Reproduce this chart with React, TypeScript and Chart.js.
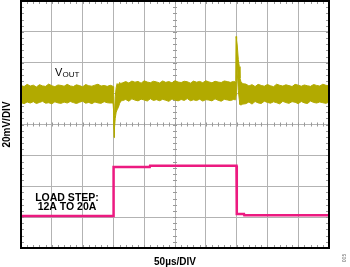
import React, { useEffect, useRef } from 'react';
import { Chart, registerables } from 'chart.js';

Chart.register(...registerables);

// ---- Axis setup (oscilloscope: 10 x 8 divisions) ----
const timeMin = 0; // µs
const timeMax = 500; // µs (50 µs/div)
const timeStep = 50;
const voutMin = -80; // mV (20 mV/div)
const voutMax = 80;
const voutStep = 20;
const ampMin = 7; // A (5 A/div, hidden scale for load step)
const ampMax = 47;

// ---- VOUT noise envelope (mV), segment by segment ----
const tBefore = [0, 5, 10, 15, 20, 25, 30, 35, 40, 45, 50, 55, 60, 65, 70, 75, 80, 85, 90, 95, 100, 105, 110, 115, 120, 125, 130, 135, 140, 145];
const upBefore = [25.2, 24.6, 26.0, 24.9, 25.5, 24.3, 25.8, 25.0, 24.7, 26.2, 25.1, 24.5, 25.6, 25.3, 24.8, 26.0, 25.0, 24.6, 25.7, 25.2, 24.4, 25.9, 25.1, 24.8, 25.5, 26.1, 24.9, 25.3, 24.7, 25.4];
const loBefore = [14.2, 13.5, 14.6, 13.9, 14.8, 13.6, 14.3, 15.0, 13.8, 14.1, 13.4, 14.7, 14.0, 13.7, 14.5, 13.9, 14.9, 14.2, 13.6, 14.4, 15.1, 13.8, 14.3, 13.5, 14.6, 14.0, 13.7, 14.8, 14.1, 13.9];

const tStepUp = [148, 149.5, 150.3, 151, 151.8, 153, 154.5, 156, 158, 160, 162];
const upStepUp = [25.0, 24.6, 21.0, -3.0, 6.0, 18.0, 24.0, 26.5, 25.5, 27.2, 26.6];
const loStepUp = [14.0, 13.6, 9.0, -8.5, -2.0, 4.0, 8.0, 9.5, 11.0, 13.5, 15.2];

const tHigh = [165, 170, 175, 180, 185, 190, 195, 200, 205, 210, 215, 220, 225, 230, 235, 240, 245, 250, 255, 260, 265, 270, 275, 280, 285, 290, 295, 300, 305, 310, 315, 320, 325, 330, 335, 340, 345];
const upHigh = [27.0, 27.8, 26.9, 28.1, 27.4, 27.9, 26.8, 28.3, 27.5, 27.1, 28.0, 27.6, 26.9, 28.2, 27.3, 27.8, 27.0, 28.4, 27.5, 27.2, 28.0, 27.7, 26.8, 28.1, 27.4, 27.9, 27.1, 28.3, 27.6, 27.0, 28.0, 27.5, 27.2, 28.2, 27.8, 27.3, 27.9];
const loHigh = [15.5, 16.2, 15.1, 16.6, 15.8, 15.3, 16.4, 15.9, 15.2, 16.7, 15.6, 16.1, 15.4, 16.3, 15.7, 15.0, 16.5, 15.9, 15.3, 16.2, 15.6, 16.8, 15.4, 16.0, 15.5, 16.4, 15.2, 16.1, 15.8, 15.3, 16.6, 15.7, 15.1, 16.3, 15.9, 15.5, 16.2];

const tStepDown = [348, 348.6, 349.1, 350, 351, 352.8, 354.4, 355.5, 357, 360];
const upStepDown = [27.6, 28.0, 57.0, 55.0, 51.5, 42.0, 37.5, 30.0, 27.8, 26.4];
const loStepDown = [16.0, 16.4, 19.0, 40.0, 34.0, 22.0, 16.0, 13.0, 12.6, 13.2];

const tAfter = [365, 370, 375, 380, 385, 390, 395, 400, 405, 410, 415, 420, 425, 430, 435, 440, 445, 450, 455, 460, 465, 470, 475, 480, 485, 490, 495, 500];
const upAfter = [26.2, 25.0, 25.8, 24.6, 26.0, 25.3, 24.8, 25.9, 25.1, 24.5, 26.1, 25.4, 24.9, 25.7, 25.2, 24.6, 26.0, 25.5, 24.8, 25.6, 25.1, 24.7, 25.9, 25.3, 24.9, 26.1, 25.4, 25.0];
const loAfter = [13.5, 14.6, 13.2, 14.9, 14.0, 13.6, 15.1, 14.3, 13.8, 14.7, 14.1, 13.4, 15.0, 14.2, 13.7, 14.8, 14.4, 13.5, 14.9, 14.0, 13.6, 15.2, 14.3, 13.9, 14.6, 14.1, 13.7, 14.5];

// ---- Load current (A) ----
const iTimes = [0, 150, 150.3, 209, 209.5, 349.8, 350.3, 362, 362.5, 500];
const iAmps = [12.2, 12.2, 20.1, 20.1, 20.3, 20.3, 12.5, 12.5, 12.3, 12.3];

// ---- Text ----
const yTitle = '20mV/DIV';
const xTitle = '50µs/DIV';
const loadLabel = ['LOAD STEP:', '12A TO 20A'];
const figId = '005';

const vTimes = [...tBefore, ...tStepUp, ...tHigh, ...tStepDown, ...tAfter];
const vUpper = [...upBefore, ...upStepUp, ...upHigh, ...upStepDown, ...upAfter];
const vLower = [...loBefore, ...loStepUp, ...loHigh, ...loStepDown, ...loAfter];

const OLIVE = '#b2aa00';
const PINK = '#ec1a80';
const GRID = '#b3b3b3';
const FONT = '"Liberation Sans", Arial, sans-serif';

const scopePlugin = {
  id: 'scopeDecor',
  beforeDatasetsDraw(chart: any) {
    const { ctx, chartArea: a, scales } = chart;
    const xs = scales.x;
    const ys = scales.y;
    const cx = xs.getPixelForValue((timeMin + timeMax) / 2);
    const cy = ys.getPixelForValue((voutMin + voutMax) / 2);
    ctx.save();
    ctx.strokeStyle = '#999';
    ctx.lineWidth = 1;
    ctx.beginPath();
    for (let t = timeMin; t <= timeMax + 1e-6; t += timeStep / 5) {
      const px = Math.round(xs.getPixelForValue(t)) + 0.5;
      ctx.moveTo(px, a.top); ctx.lineTo(px, a.top + 3);
      ctx.moveTo(px, a.bottom); ctx.lineTo(px, a.bottom - 3);
      ctx.moveTo(px, cy - 2); ctx.lineTo(px, cy + 2);
    }
    for (let v = voutMin; v <= voutMax + 1e-6; v += voutStep / 5) {
      const py = Math.round(ys.getPixelForValue(v)) + 0.5;
      ctx.moveTo(a.left, py); ctx.lineTo(a.left + 3, py);
      ctx.moveTo(a.right, py); ctx.lineTo(a.right - 3, py);
      ctx.moveTo(cx - 2, py); ctx.lineTo(cx + 2, py);
    }
    ctx.stroke();
    ctx.restore();
  },
  afterDraw(chart: any) {
    const { ctx, chartArea: a } = chart;
    ctx.save();
    ctx.strokeStyle = '#000';
    ctx.lineWidth = 2;
    ctx.strokeRect(a.left, a.top, a.right - a.left, a.bottom - a.top);

    ctx.fillStyle = '#000';
    // VOUT label
    ctx.textAlign = 'left';
    ctx.textBaseline = 'alphabetic';
    ctx.font = `11px ${FONT}`;
    ctx.fillText('V', 55, 76);
    ctx.font = `8px ${FONT}`;
    ctx.fillText('OUT', 62.5, 76.5);

    // Load step label
    ctx.textAlign = 'center';
    ctx.font = `bold 10.5px ${FONT}`;
    ctx.fillText(loadLabel[0], 67, 200.5);
    ctx.fillText(loadLabel[1], 67, 210);

    // X title
    ctx.font = `bold 10px ${FONT}`;
    ctx.fillText(xTitle, (a.left + a.right) / 2, 264.5);

    // Y title
    ctx.save();
    ctx.translate(9.5, (a.top + a.bottom) / 2);
    ctx.rotate(-Math.PI / 2);
    ctx.fillText(yTitle, 0, 0);
    ctx.restore();

    // figure id
    ctx.save();
    ctx.translate(346, 258);
    ctx.rotate(-Math.PI / 2);
    ctx.fillStyle = '#666';
    ctx.font = `5px ${FONT}`;
    ctx.fillText(figId, 0, 0);
    ctx.restore();

    ctx.restore();
  },
};

export default function App() {
  const ref = useRef<HTMLCanvasElement | null>(null);

  useEffect(() => {
    document.body.style.margin = '0';
    const canvas = ref.current;
    if (!canvas) return;
    const chart = new Chart(canvas, {
      type: 'line',
      data: {
        datasets: [
          {
            label: 'VOUT upper',
            data: vTimes.map((t, i) => ({ x: t, y: vUpper[i] })),
            borderColor: OLIVE,
            backgroundColor: OLIVE,
            borderWidth: 1,
            pointRadius: 0,
            fill: '+1',
            yAxisID: 'y',
          },
          {
            label: 'VOUT lower',
            data: vTimes.map((t, i) => ({ x: t, y: vLower[i] })),
            borderColor: OLIVE,
            backgroundColor: OLIVE,
            borderWidth: 1,
            pointRadius: 0,
            fill: false,
            yAxisID: 'y',
          },
          {
            label: 'Load',
            data: iTimes.map((t, i) => ({ x: t, y: iAmps[i] })),
            borderColor: PINK,
            borderWidth: 2.5,
            pointRadius: 0,
            fill: false,
            yAxisID: 'y2',
          },
        ],
      },
      options: {
        animation: false,
        responsive: false,
        devicePixelRatio: 1,
        layout: { padding: { left: 21, right: 21, top: 1, bottom: 19 } },
        plugins: { legend: { display: false }, tooltip: { enabled: false } },
        elements: { line: { tension: 0 } },
        scales: {
          x: {
            type: 'linear',
            min: timeMin,
            max: timeMax,
            ticks: { stepSize: timeStep, display: false },
            grid: { color: GRID, lineWidth: 1, drawTicks: false },
            border: { display: false },
          },
          y: {
            type: 'linear',
            min: voutMin,
            max: voutMax,
            ticks: { stepSize: voutStep, display: false },
            grid: { color: GRID, lineWidth: 1, drawTicks: false },
            border: { display: false },
          },
          y2: {
            type: 'linear',
            min: ampMin,
            max: ampMax,
            display: false,
          },
        },
      },
      plugins: [scopePlugin],
    });
    return () => chart.destroy();
  }, []);

  return (
    <div style={{ width: 350, height: 267, position: 'relative', background: '#fff' }}>
      <canvas ref={ref} width={350} height={267} />
    </div>
  );
}
